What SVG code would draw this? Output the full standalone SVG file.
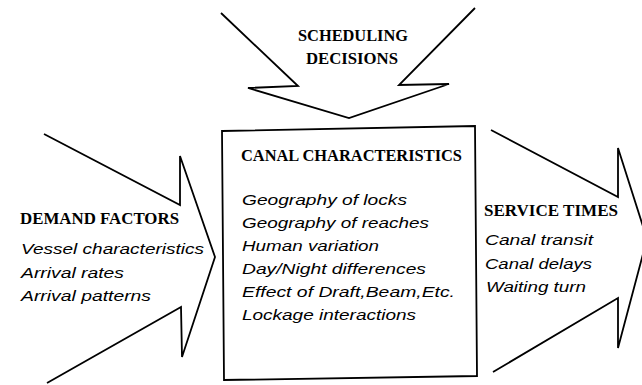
<svg xmlns="http://www.w3.org/2000/svg" width="642" height="385" viewBox="0 0 642 385">
<style>
.ln{fill:none;stroke:#000;stroke-width:1.8;stroke-linejoin:miter}
.hd{font-family:"Liberation Serif",serif;font-weight:bold;font-size:16px;fill:#000}
.it{font-family:"Liberation Sans",Arial,sans-serif;font-style:italic;font-size:15px;fill:#000}
</style>
<rect width="642" height="385" fill="#fff"/>
<g id="connectors">
<polyline class="ln" points="221,13 298,86 248,88 349,118 449,84 399,85 475,8"/>
<polyline class="ln" points="44,134 180,205 180,156 215,257 182,357 181,307 47,383"/>
<polyline class="ln" points="491,130 618,197 618,148 647,239 618,348 618,298 493,372"/>
</g>
<g id="scheduling">
<text class="hd" x="298" y="41" textLength="110" lengthAdjust="spacingAndGlyphs">SCHEDULING</text>
<text class="hd" x="306" y="64" textLength="92" lengthAdjust="spacingAndGlyphs">DECISIONS</text>
</g>
<g id="canal">
<polygon class="ln" points="222,131 475,126 477,376 224,380"/>
<text class="hd" x="241" y="161" textLength="221" lengthAdjust="spacingAndGlyphs">CANAL CHARACTERISTICS</text>
<text class="it" x="242" y="205" textLength="165" lengthAdjust="spacingAndGlyphs">Geography of locks</text>
<text class="it" x="242" y="228" textLength="187" lengthAdjust="spacingAndGlyphs">Geography of reaches</text>
<text class="it" x="242" y="251" textLength="137" lengthAdjust="spacingAndGlyphs">Human variation</text>
<text class="it" x="242" y="274" textLength="184" lengthAdjust="spacingAndGlyphs">Day/Night differences</text>
<text class="it" x="242" y="297" textLength="213" lengthAdjust="spacingAndGlyphs">Effect of Draft,Beam,Etc.</text>
<text class="it" x="242" y="320" textLength="174" lengthAdjust="spacingAndGlyphs">Lockage interactions</text>
</g>
<g id="demand">
<text class="hd" x="20" y="224" textLength="159" lengthAdjust="spacingAndGlyphs">DEMAND FACTORS</text>
<text class="it" x="21" y="254" textLength="183" lengthAdjust="spacingAndGlyphs">Vessel characteristics</text>
<text class="it" x="21" y="278" textLength="103" lengthAdjust="spacingAndGlyphs">Arrival rates</text>
<text class="it" x="21" y="301" textLength="130" lengthAdjust="spacingAndGlyphs">Arrival patterns</text>
</g>
<g id="service">
<text class="hd" x="484" y="216" textLength="134" lengthAdjust="spacingAndGlyphs">SERVICE TIMES</text>
<text class="it" x="485" y="245" textLength="108" lengthAdjust="spacingAndGlyphs">Canal transit</text>
<text class="it" x="485" y="269" textLength="107" lengthAdjust="spacingAndGlyphs">Canal delays</text>
<text class="it" x="486" y="292" textLength="100" lengthAdjust="spacingAndGlyphs">Waiting turn</text>
</g>
</svg>
